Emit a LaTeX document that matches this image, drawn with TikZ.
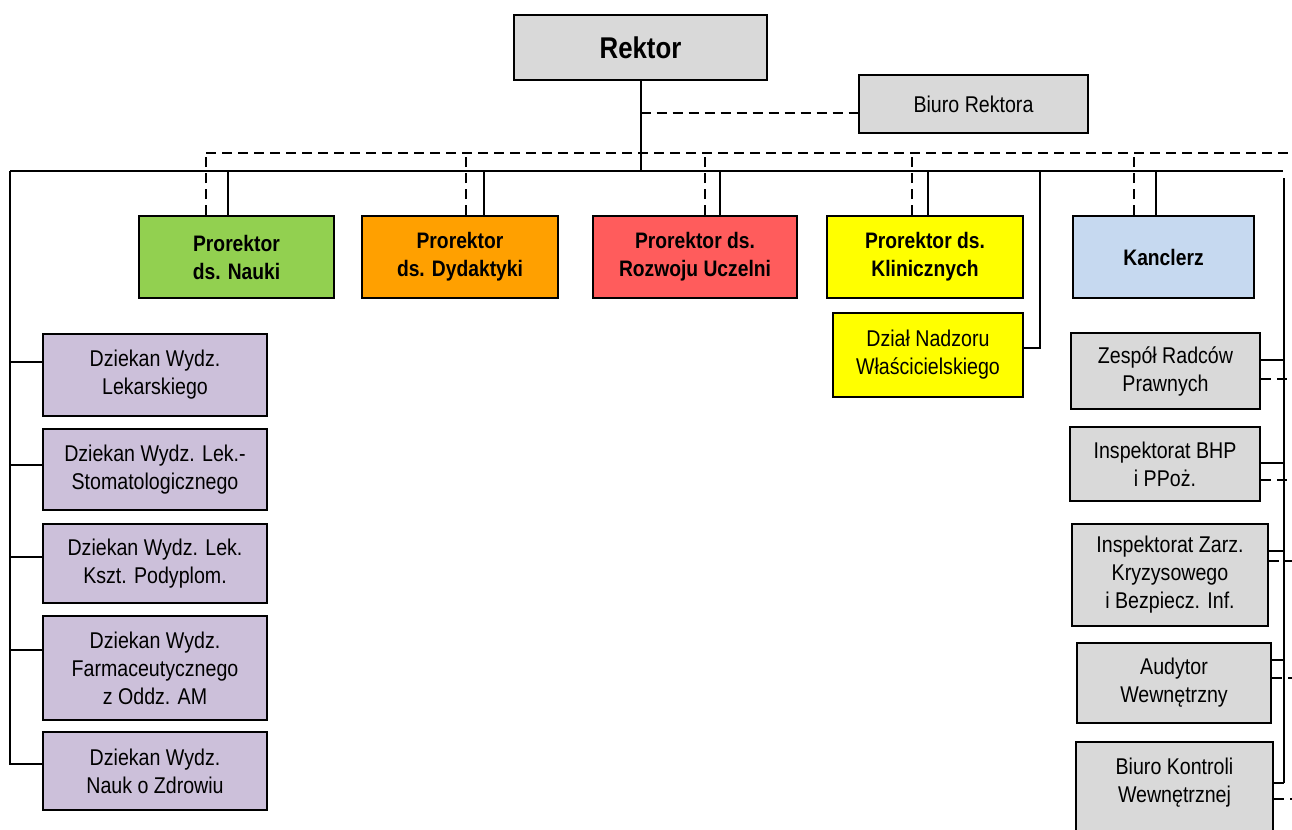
\documentclass[tikz,border=0pt]{standalone}
\usepackage{fontspec}
\setmainfont{Liberation Sans}[FakeStretch=0.86]
\usepackage{tikz}

\definecolor{boxgray}{HTML}{D9D9D9}
\definecolor{naukigreen}{HTML}{92D050}
\definecolor{dydorange}{HTML}{FFA000}
\definecolor{rozwred}{HTML}{FF5C5C}
\definecolor{klinyellow}{HTML}{FFFF00}
\definecolor{kanblue}{HTML}{C6D9F0}
\definecolor{dziekpurple}{HTML}{CCC0DA}

\tikzset{
  box/.style={draw, line width=1pt, align=center, inner sep=2pt,
    font=\fontsize{11.4}{14}\selectfont},
  prbox/.style={box, minimum height=41pt, font=\bfseries\fontsize{11.2}{14}\selectfont},
  dzbox/.style={box, fill=dziekpurple, minimum width=112pt},
  rbox/.style={box, fill=boxgray},
  conn/.style={line width=1pt},
  dconn/.style={line width=1pt, dash pattern=on 5pt off 3pt}
}

\begin{document}
\begin{tikzpicture}[x=0.5pt,y=-0.5pt]
\useasboundingbox (0,0) rectangle (1292,830);

\node[box, fill=boxgray, minimum width=126.5pt, minimum height=32.5pt,
  font=\bfseries\fontsize{15}{17}\selectfont] (rektor) at (640.5,47.5) {Rektor};
\node[rbox, minimum width=114.5pt, minimum height=29pt] (biuro) at (973.5,104) {Biuro Rektora};

\node[prbox, fill=naukigreen, minimum width=97.5pt] (pn) at (236.5,257) {Prorektor\\ds. Nauki};
\node[prbox, fill=dydorange, minimum width=98pt] (pd) at (460,257) {Prorektor\\ds. Dydaktyki};
\node[prbox, fill=rozwred, minimum width=102pt] (pr) at (695,257) {Prorektor ds.\\Rozwoju Uczelni};
\node[prbox, fill=klinyellow, minimum width=98pt] (pk) at (925,257) {Prorektor ds.\\Klinicznych};
\node[prbox, fill=kanblue, minimum width=90.5pt] (kan) at (1163.5,257) {Kanclerz};

\node[box, fill=klinyellow, minimum width=95pt, minimum height=42pt] (dn) at (928,355) {Dział Nadzoru\\Właścicielskiego};

\node[dzbox, minimum height=41pt] (dz1) at (155,375) {Dziekan Wydz.\\Lekarskiego};
\node[dzbox, minimum height=40.5pt] (dz2) at (155,469.5) {Dziekan Wydz. Lek.-\\Stomatologicznego};
\node[dzbox, minimum height=39.5pt] (dz3) at (155,563.5) {Dziekan Wydz. Lek.\\Kszt. Podyplom.};
\node[dzbox, minimum height=52pt] (dz4) at (155,668) {Dziekan Wydz.\\Farmaceutycznego\\z Oddz. AM};
\node[dzbox, minimum height=39pt] (dz5) at (155,771) {Dziekan Wydz.\\Nauk o Zdrowiu};

\node[rbox, minimum width=94.5pt, minimum height=38pt] (zrp) at (1165.5,371) {Zespół Radców\\Prawnych};
\node[rbox, minimum width=95pt, minimum height=37pt] (bhp) at (1165,464) {Inspektorat BHP\\i PPoż.};
\node[rbox, minimum width=98pt, minimum height=51pt] (izk) at (1170,575) {Inspektorat Zarz.\\Kryzysowego\\i Bezpiecz. Inf.};
\node[rbox, minimum width=97pt, minimum height=40pt] (aud) at (1174,683) {Audytor\\Wewnętrzny};
\node[rbox, minimum width=98.5pt, minimum height=47pt, text depth=9pt] (bkw) at (1174.5,789) {Biuro Kontroli\\Wewnętrznej};

\coordinate (bus) at (10,171);
\coordinate (busend) at (1283,171);
\coordinate (dbus) at (206,153);
\coordinate (dbusend) at (1292,153);
\coordinate (leftend) at (10,765);
\coordinate (rtop) at (1284,178);
\coordinate (rend) at (1284,783);
\coordinate (edge) at (1292,0);

\draw[conn] (rektor.south) -- (rektor.south |- bus);
\draw[dconn] ([yshift=-4.5pt]rektor.south |- biuro.west) -- ([yshift=-4.5pt]biuro.west);
\draw[conn] (bus) -- (busend);
\draw[dconn] (dbus) -- (dbusend);

\foreach \n/\s/\d in {pn/228/206, pd/484/466, pr/720/705, pk/928/912, kan/1156/1134}
{
  \draw[conn] (\n.north -| \s,0) -- (bus -| \s,0);
  \draw[dconn] (\n.north -| \d,0) -- (dbus -| \d,0);
}

\draw[conn] ([yshift=3.5pt]dn.east) -| (bus -| 1040,0);

\draw[conn] (bus) -- (leftend);
\foreach \n/\o in {dz1/6.5, dz2/2.5, dz3/3.5, dz4/9, dz5/3.5}
  \draw[conn] ([yshift=\o pt]\n.west) -- ([yshift=\o pt]\n.west -| bus);

\draw[conn] (rtop) -- (rend);
\foreach \n/\s/\d in {zrp/5.5/-4, bhp/0.5/-8, izk/12/7, aud/11.5/2.5, bkw/3/-5}
{
  \draw[conn] ([yshift=\s pt]\n.east) -- ([yshift=\s pt]\n.east -| rtop);
  \draw[dconn] ([yshift=\d pt]\n.east) -- ([yshift=\d pt]\n.east -| edge);
}
\end{tikzpicture}
\end{document}
